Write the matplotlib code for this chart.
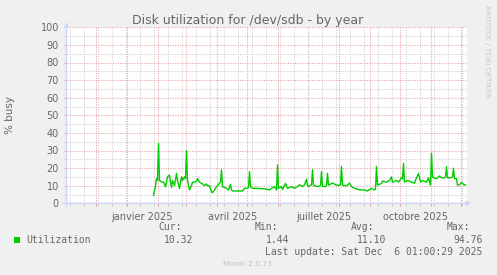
"""Munin style yearly disk utilization graph for /dev/sdb."""
import datetime as dt
import matplotlib
matplotlib.use("Agg")
import matplotlib.pyplot as plt
import matplotlib.dates as mdates

START = dt.datetime(2024, 11, 1, 1, 0)
END = dt.datetime(2025, 12, 6, 1, 0, 29)

# daily averages, day offset from START -> % busy
day = [87, 89, 90, 91, 92, 93, 94, 96, 97, 99, 101, 103, 104, 105, 106, 108,
       110, 111, 113, 115, 116, 118, 119, 120, 121, 123, 125, 126, 128, 130,
       131, 133, 136, 138, 140, 141, 143, 145, 146, 148, 150, 151, 153, 154,
       155, 156, 158, 160, 162, 164, 165, 166, 170, 176, 178, 181, 182, 183,
       184, 186, 190, 196, 200, 203, 205, 208, 210, 211, 212, 215, 216, 219,
       221, 225, 228, 231, 233, 236, 238, 240, 241, 242, 244, 245, 246, 247,
       251, 254, 255, 256, 259, 260, 261, 262, 266, 270, 273, 274, 275, 276,
       280, 283, 285, 288, 293, 298, 301, 305, 308, 309, 310, 311, 315, 316,
       320, 323, 325, 326, 330, 332, 335, 336, 337, 338, 341, 345, 348, 350,
       352, 354, 356, 360, 362, 364, 365, 366, 367, 370, 373, 375, 378, 379,
       380, 381, 385, 386, 387, 388, 390, 391, 393, 395, 398, 399]
busy = [4.5, 10, 14, 13, 34, 13, 12.5, 12, 12, 9.4, 15, 16, 12, 9, 13, 10,
        17, 13, 8.5, 15, 13, 15, 14, 30, 13, 7.6, 10, 12, 12, 12.5,
        14, 12, 11, 10, 11, 10, 10, 6.6, 6, 7.5, 9.5, 10, 11.5, 12,
        19, 9.5, 9, 8.5, 7.5, 10.8, 7.5, 7, 7, 7, 8.5, 8.5, 9, 18,
        9.5, 8.5, 8.5, 8.3, 8, 7.6, 8.5, 9.5, 7.5, 21.8, 8.5, 9.5, 7.8, 11.3,
        8.5, 9.5, 8.5, 9.5, 10.5, 9.5, 10.5, 13.7, 10, 9.5, 10.3, 10.5, 19, 10.3,
        9.5, 10, 18, 9.5, 9.5, 10, 17, 10.3, 11.5, 10.3, 10.3, 10.5, 21, 10.3,
        9.8, 11.5, 9.5, 8.5, 7.6, 7.6, 7, 8.5, 7.6, 8, 21, 10.3, 11.3, 12.6,
        12, 13, 15, 12, 13, 12, 14.5, 14, 22.7, 12, 13, 12, 11.5, 14.5,
        17, 12, 13, 12, 14.5, 10.3, 28.4, 15, 14.5, 14, 15.5, 14.5, 14.5, 15,
        20.8, 14.5, 14.5, 15, 19.9, 14, 14, 10.3, 10.5, 11.8, 10.3, 10.5]

label_month = [1, 4, 7, 10]
label_text = ["janvier 2025", "avril 2025", "juillet 2025", "octobre 2025"]

stat_names = ["Cur:", "Min:", "Avg:", "Max:"]
stat_values = ["10.32", "1.44", "11.10", "94.76"]

BACK = "#F0F0F0"
FONT = "#666666"
AXIS = "#CFD6F8"
LINE = "#00CC00"
MGRID = "#E8A0A0"
GRID = "#D0D0D0"
W, H = 497, 275


def px(x, y):
    return x / W, 1 - y / H


fig = plt.figure(figsize=(W / 100, H / 100), dpi=100, facecolor=BACK)
ax = fig.add_axes([66.5 / W, 1 - 203.3 / H, 400 / W, 176 / H])
ax.set_facecolor("white")

dates = [START + dt.timedelta(days=d) for d in day]
ax.plot(dates, busy, color=LINE, lw=1.0, zorder=3)

ax.set_xlim(START, END)
ax.set_ylim(0, 100)

# grid: month starts (red) / two-week lines (gray); y every 10 / 5
ax.xaxis.set_major_locator(mdates.MonthLocator())
ax.xaxis.set_minor_locator(mdates.RRuleLocator(
    mdates.rrulewrapper(mdates.DAILY, interval=14, dtstart=dt.datetime(2024, 11, 10))))
ax.set_yticks(range(0, 101, 10))
ax.set_yticks(range(5, 100, 10), minor=True)
ax.xaxis.set_major_formatter(plt.NullFormatter())
ax.grid(which="major", color=MGRID, lw=0.75, ls=(0, (1, 1.3)), zorder=1)
ax.grid(which="minor", color=GRID, lw=0.75, ls=(0, (1, 1.3)), zorder=0)
ax.tick_params(which="major", length=2.5, width=0.75, color=MGRID,
               labelsize=7, labelcolor=FONT, pad=3)
ax.tick_params(which="minor", length=2.5, width=0.75, color=GRID)
for s in ax.spines.values():
    s.set_visible(False)

# axis lines with arrows
arrow = dict(arrowstyle="-|>", color=AXIS, lw=1, mutation_scale=7,
             shrinkA=0, shrinkB=0)
ax.annotate("", xy=(1.012, 0), xytext=(-0.01, 0), xycoords="axes fraction",
            arrowprops=arrow, annotation_clip=False)
ax.annotate("", xy=(0, 1.03), xytext=(0, -0.015), xycoords="axes fraction",
            arrowprops=arrow, annotation_clip=False)

# month labels centred mid-month
for m, t in zip(label_month, label_text):
    ax.text(dt.datetime(2025, m, 16), -0.05, t, transform=ax.get_xaxis_transform(),
            ha="center", va="top", fontsize=7, color=FONT)

fig.text(*px(248, 24), "Disk utilization for /dev/sdb - by year", ha="center",
         va="baseline", fontsize=9, color=FONT)
fig.text(*px(10, 115), "% busy", rotation=90, ha="center", va="center",
         fontsize=7.5, color=FONT)
fig.text(*px(487, 5), "RRDTOOL / TOBI OETIKER", rotation=270, ha="center",
         va="top", fontsize=5.2, color="#C8C8C8")

# legend
mono = dict(family="DejaVu Sans Mono", fontsize=7, color=FONT, va="center")
fig.patches.append(plt.Rectangle(px(14, 243), 6 / W, 6 / H, transform=fig.transFigure,
                                 facecolor=LINE, edgecolor="none"))
fig.text(*px(26.5, 240), "Utilization", ha="left", **mono)
for i, (n, v) in enumerate(zip(stat_names, stat_values)):
    fig.text(*px(182 + 96.2 * i, 227.5), n, ha="right", **mono)
    fig.text(*px(193.3 + 96.4 * i, 240), v, ha="right", **mono)
fig.text(*px(482.5, 251.7), "Last update: Sat Dec  6 01:00:29 2025", ha="right", **mono)
fig.text(*px(247.5, 264), "Munin 2.0.73", ha="center", va="center",
         fontsize=5.4, color="#C0C0C0")

fig.savefig("out.png", dpi=100, facecolor=BACK)
